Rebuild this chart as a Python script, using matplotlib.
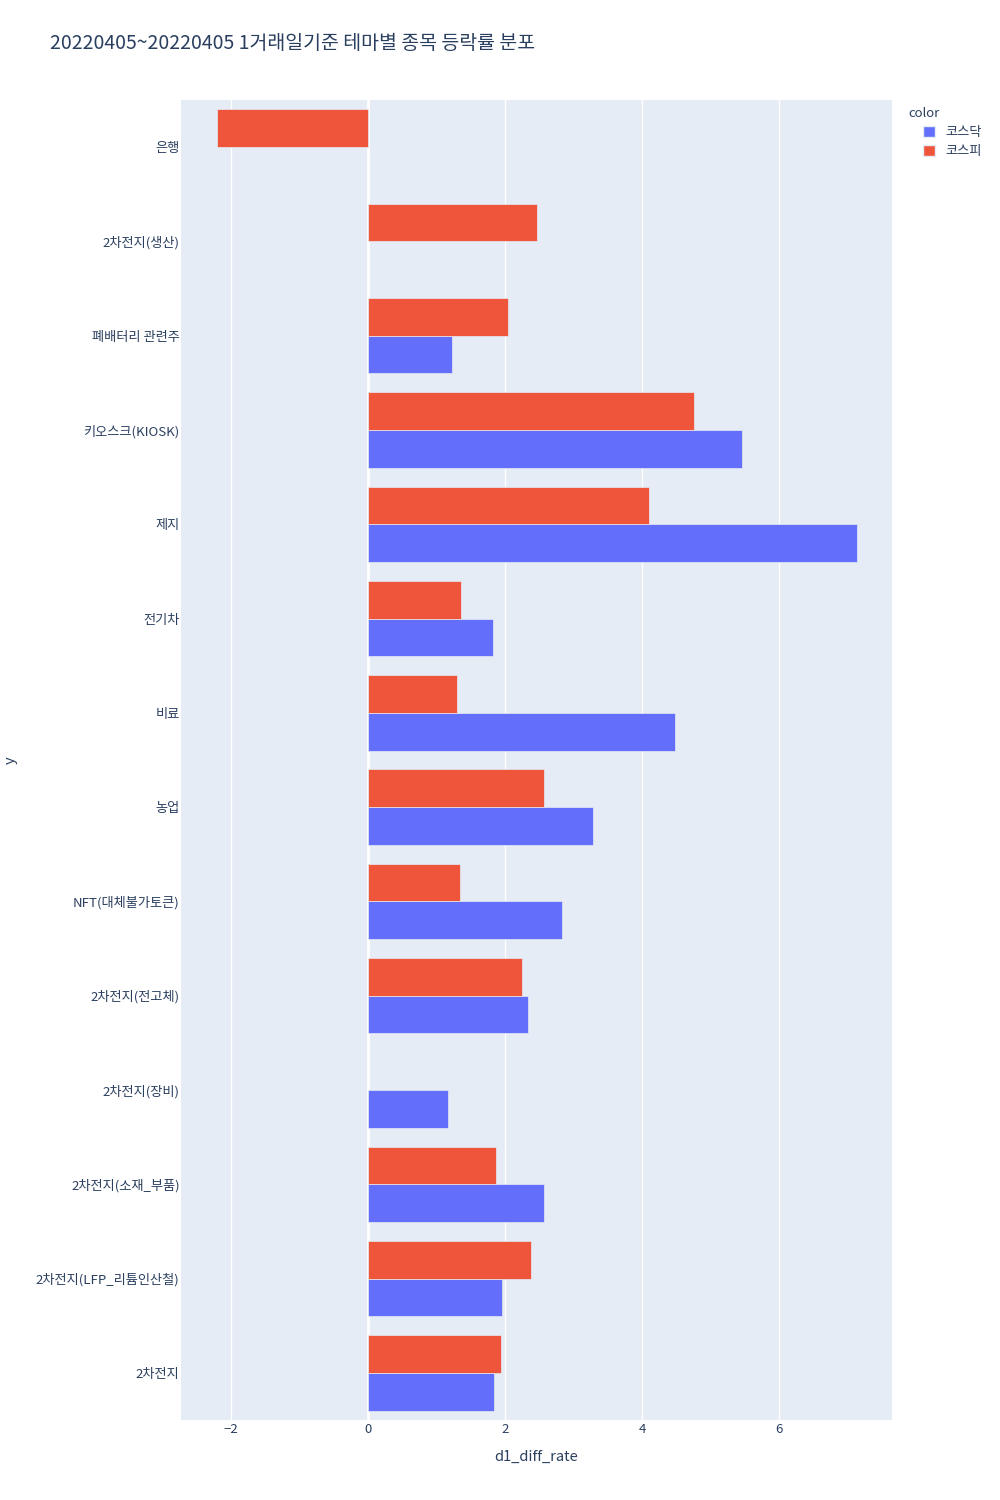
import numpy as np
import matplotlib
matplotlib.use("Agg")
import matplotlib.pyplot as plt
from matplotlib.patches import Patch

plt.rcParams['font.family'] = ['Noto Sans CJK KR', 'DejaVu Sans']

# categories, bottom to top
themes = ["2차전지", "2차전지(LFP_리튬인산철)", "2차전지(소재_부품)", "2차전지(장비)",
          "2차전지(전고체)", "NFT(대체불가토큰)", "농업", "비료", "전기차", "제지",
          "키오스크(KIOSK)", "폐배터리 관련주", "2차전지(생산)", "은행"]
kosdaq = [1.84, 1.96, 2.57, 1.17, 2.34, 2.83, 3.28, 4.48, 1.82, 7.14,
          5.46, 1.23, np.nan, np.nan]
kospi = [1.94, 2.38, 1.87, np.nan, 2.25, 1.34, 2.57, 1.30, 1.36, 4.10,
         4.76, 2.04, 2.47, -2.20]

txt = "#2a3f5f"
c_kosdaq = "#636efa"
c_kospi = "#ef553b"

fig = plt.figure(figsize=(10, 15), dpi=100)
ax = fig.add_axes([0.181, 0.0533, 0.711, 0.88])
ax.set_facecolor("#e5ecf6")

y = np.arange(len(themes))
h = 0.4
ax.barh(y - h / 2, kosdaq, height=h, color=c_kosdaq, edgecolor="#e5ecf6", linewidth=0.5, zorder=3)
ax.barh(y + h / 2, kospi, height=h, color=c_kospi, edgecolor="#e5ecf6", linewidth=0.5, zorder=3)

ax.set_xlim(-2.73, 7.65)
ax.set_ylim(-0.5, len(themes) - 0.5)
ax.set_xticks([-2, 0, 2, 4, 6])
ax.set_xticklabels(["\u22122", "0", "2", "4", "6"])
ax.set_yticks(y)
ax.set_yticklabels(themes)
ax.grid(axis="x", color="white", linewidth=1, zorder=0)
ax.axvline(0, color="white", linewidth=2, zorder=1)
for s in ax.spines.values():
    s.set_visible(False)
ax.tick_params(length=0, labelsize=9.5, labelcolor=txt)
ax.tick_params(axis="y", pad=1)
ax.tick_params(axis="x", pad=2)

ax.set_xlabel("d1_diff_rate", fontsize=10.5, color=txt, labelpad=10)
fig.text(0.011, 0.493, "y", rotation=90, fontsize=10.5, color=txt, ha="center", va="center")

fig.text(0.05, 0.971, "20220405~20220405 1거래일기준 테마별 종목 등락률 분포",
         fontsize=14, color=txt, ha="left", va="center")

handles = [Patch(facecolor=c_kosdaq, edgecolor="#e5ecf6"),
           Patch(facecolor=c_kospi, edgecolor="#e5ecf6")]
leg = fig.legend(handles, ["코스닥", "코스피"], title="color",
                 loc="upper left", bbox_to_anchor=(0.8995, 0.935),
                 frameon=False, fontsize=9.5, title_fontsize=9.5,
                 handlelength=0.9, handleheight=0.9, handletextpad=1.2,
                 labelspacing=0.45, borderpad=0.2)
leg._legend_box.align = "left"
leg.get_title().set_color(txt)
for t in leg.get_texts():
    t.set_color(txt)
# indent entries like plotly
for hp in leg.legend_handles:
    hp.set_x(hp.get_x() + 10)
for t in leg.get_texts():
    t.set_x(9)

fig.savefig("out.png", dpi=100)
